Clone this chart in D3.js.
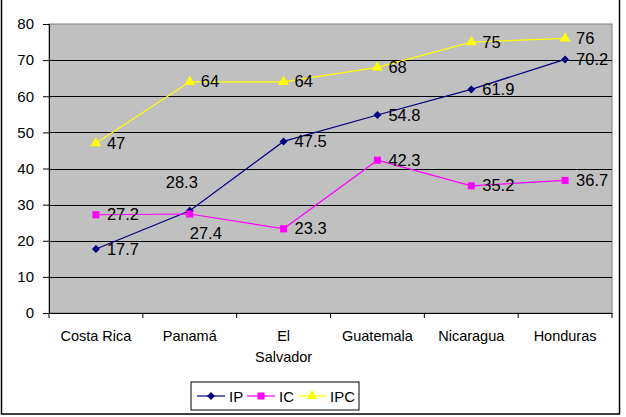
<!DOCTYPE html>
<html>
<head>
<meta charset="utf-8">
<script src="https://cdn.jsdelivr.net/npm/d3@7"></script>
<style>
body { margin: 0; background: #fff; }
svg { display: block; font-family: "Liberation Sans", Arial, sans-serif; }
</style>
</head>
<body>
<svg></svg>
<script>
const countries = ["Costa Rica", "Panamá", "El Salvador", "Guatemala", "Nicaragua", "Honduras"];
const ipValues = [17.7, 28.3, 47.5, 54.8, 61.9, 70.2];
const icValues = [27.2, 27.4, 23.3, 42.3, 35.2, 36.7];
const ipcValues = [47, 64, 64, 68, 75, 76];
const yTicks = [0, 10, 20, 30, 40, 50, 60, 70, 80];

const width = 626, height = 417;
const svg = d3.select("svg").attr("width", width).attr("height", height);
const font = "Liberation Sans, Arial, sans-serif";

// outer frame
svg.append("rect")
    .attr("x", 1.5).attr("y", -1)
    .attr("width", 618).attr("height", 415)
    .attr("fill", "#fff").attr("stroke", "#000").attr("stroke-width", 1.5);

const plot = {left: 49, top: 24, right: 612, bottom: 313};

const x = d3.scaleBand().domain(countries).range([plot.left, plot.right]);
const y = d3.scaleLinear().domain([0, 80]).range([plot.bottom, plot.top]);

svg.append("rect")
    .attr("x", plot.left).attr("y", plot.top)
    .attr("width", plot.right - plot.left).attr("height", plot.bottom - plot.top)
    .attr("fill", "#c0c0c0").attr("stroke", "#808080");

// gridlines
svg.append("g").selectAll("line")
    .data(yTicks.slice(1, -1))
    .join("line")
    .attr("x1", plot.left).attr("x2", plot.right)
    .attr("y1", d => Math.round(y(d)) + 0.5).attr("y2", d => Math.round(y(d)) + 0.5)
    .attr("stroke", "#000");

// y axis
const yAxis = svg.append("g")
    .attr("transform", `translate(${plot.left},0)`)
    .call(d3.axisLeft(y).tickValues(yTicks).tickSize(6).tickPadding(9));
yAxis.attr("font-size", 15).attr("font-family", font);
yAxis.select(".domain").attr("stroke", "#000");
yAxis.selectAll("text").attr("fill", "#000");

// x axis
const xAxis = svg.append("g")
    .attr("transform", `translate(0,${plot.bottom})`)
    .call(d3.axisBottom(x).tickSize(0).tickPadding(18));
xAxis.attr("font-size", 14.5).attr("font-family", font);
xAxis.select(".domain").attr("stroke", "#000");
xAxis.selectAll("text").attr("fill", "#000")
    .each(function(d) {
        if (d === "El Salvador") {
            const t = d3.select(this).text(null);
            t.append("tspan").attr("x", 0).text("El");
            t.append("tspan").attr("x", 0).attr("dy", "1.4em").text("Salvador");
        }
    });
// ticks between categories
svg.append("g").selectAll("line")
    .data(d3.range(countries.length + 1))
    .join("line")
    .attr("x1", i => plot.left + i * x.bandwidth()).attr("x2", i => plot.left + i * x.bandwidth())
    .attr("y1", plot.bottom).attr("y2", plot.bottom + 5)
    .attr("stroke", "#000");

const cx = d => x(d) + x.bandwidth() / 2;

const series = [
    {name: "IP", values: ipValues, color: "#000080", shape: d3.symbolSquare, size: 32, rotate: 45},
    {name: "IC", values: icValues, color: "#ff00ff", shape: d3.symbolSquare, size: 50, rotate: 0},
    {name: "IPC", values: ipcValues, color: "#ffff00", shape: d3.symbolTriangle, size: 50, rotate: 0}
];

// label offsets [dx, dy] relative to point
const labelOffsets = {
    "IP-Panamá": [-24, -28],
    "IC-Panamá": [0, 19]
};

const line = d3.line().x((v, i) => cx(countries[i])).y(v => y(v));

series.forEach(s => {
    svg.append("path")
        .attr("d", line(s.values))
        .attr("fill", "none").attr("stroke", s.color).attr("stroke-width", 1.2);
    svg.append("g").selectAll("path")
        .data(s.values)
        .join("path")
        .attr("transform", (v, i) => `translate(${cx(countries[i])},${y(v)}) rotate(${s.rotate})`)
        .attr("d", d3.symbol().type(s.shape).size(s.size))
        .attr("fill", s.color);
});

series.forEach(s => {
    svg.append("g").selectAll("text")
        .data(s.values)
        .join("text")
        .attr("x", (v, i) => cx(countries[i]) + ((labelOffsets[s.name + "-" + countries[i]] || [11, 0])[0]))
        .attr("y", (v, i) => y(v) + ((labelOffsets[s.name + "-" + countries[i]] || [11, 0])[1]) + 5.5)
        .attr("font-size", 16.5).attr("fill", "#000")
        .text(v => v);
});

// legend
const legend = svg.append("g").attr("transform", "translate(191,382)");
legend.append("rect").attr("width", 168).attr("height", 28)
    .attr("fill", "#fff").attr("stroke", "#000");
const legendX = [6, 56, 107];
series.forEach((s, i) => {
    const g = legend.append("g").attr("transform", `translate(${legendX[i]},14)`);
    g.append("line").attr("x1", 0).attr("x2", 28).attr("stroke", s.color).attr("stroke-width", 1.2);
    g.append("path").attr("transform", `translate(14,0) rotate(${s.rotate})`)
        .attr("d", d3.symbol().type(s.shape).size(s.size)).attr("fill", s.color);
    g.append("text").attr("x", 32).attr("y", 5.5).attr("font-size", 15).attr("fill", "#000").text(s.name);
});
</script>
</body>
</html>
